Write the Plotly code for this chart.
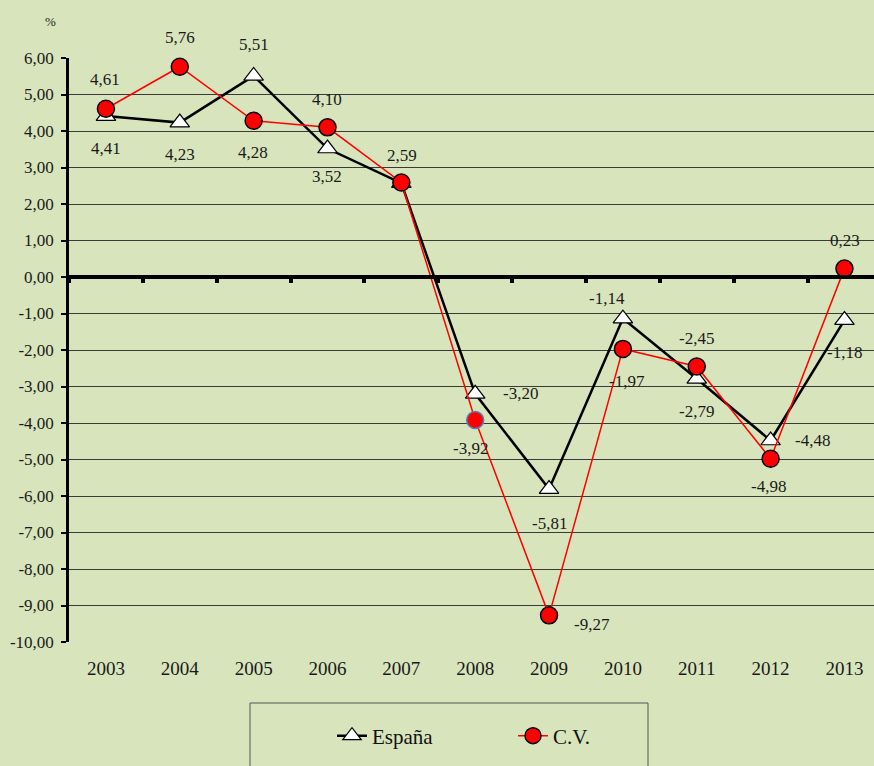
import plotly.graph_objects as go

years = ["2003", "2004", "2005", "2006", "2007", "2008", "2009", "2010", "2011", "2012", "2013"]
espana = [4.41, 4.23, 5.51, 3.52, 2.57, -3.20, -5.81, -1.14, -2.79, -4.48, -1.18]
cv = [4.61, 5.76, 4.28, 4.10, 2.59, -3.92, -9.27, -1.97, -2.45, -4.98, 0.23]
espana_labels = ["4,41", "4,23", "5,51", "3,52", "", "-3,20", "-5,81", "-1,14", "-2,79", "-4,48", "-1,18"]
cv_labels = ["4,61", "5,76", "4,28", "4,10", "2,59", "-3,92", "-9,27", "-1,97", "-2,45", "-4,98", "0,23"]
yticks = list(range(-10, 7))
ytick_text = [("%.2f" % v).replace(".", ",") for v in yticks]

# label offsets in px (dx right, dy down) relative to each marker
espana_off = [(0, 32), (0, 32), (0, -31), (0, 28), (0, 30), (45, 0), (0, 34), (-16, -20), (0, 33), (42, 0), (0, 32)]
cv_off = [(-1, -29), (0, -29), (-1, 32), (0, -28), (1, -27), (-5, 28), (43, 9), (4, 33), (0, -28), (-2, 28), (1, -28)]

FONT = "Times New Roman, Liberation Serif, serif"
BG = "#D8E4BC"
TXT = "#1a1a1a"

fig = go.Figure()
fig.add_trace(go.Scatter(
    x=years, y=espana, name="España", mode="lines+markers",
    line=dict(color="black", width=2.5),
    marker=dict(symbol="triangle-up", size=17, color="white", line=dict(color="black", width=1.2)),
    cliponaxis=False,
))
cv_line_colors = ["black"] * len(cv)
cv_line_colors[5] = "#4F81BD"
fig.add_trace(go.Scatter(
    x=years, y=cv, name="C.V.", mode="lines+markers",
    line=dict(color="red", width=1.5),
    marker=dict(symbol="circle", size=17, color="red", line=dict(color=cv_line_colors, width=1.5)),
    cliponaxis=False,
))
# invisible trace to drive the zero-line axis
fig.add_trace(go.Scatter(x=[0], y=[0], xaxis="x2", mode="markers",
                         marker=dict(opacity=0), showlegend=False, hoverinfo="skip"))

annotations = []
for i, (v, t, (dx, dy)) in enumerate(zip(espana, espana_labels, espana_off)):
    if t:
        annotations.append(dict(x=i, y=v, xref="x", yref="y", text=t, showarrow=False,
                                xshift=dx, yshift=-dy, font=dict(family=FONT, size=17, color=TXT)))
for i, (v, t, (dx, dy)) in enumerate(zip(cv, cv_labels, cv_off)):
    if t:
        annotations.append(dict(x=i, y=v, xref="x", yref="y", text=t, showarrow=False,
                                xshift=dx, yshift=-dy, font=dict(family=FONT, size=17, color=TXT)))

W, H = 874, 766
mt, mb = 58, 124
ml = 69
ymin, ymax = -10, 6
ph = H - mt - mb
pw = W - ml
dom_frac = (0 - ymin) / (ymax - ymin)

annotations.append(dict(text="%", xref="paper", yref="paper", x=-(ml - 50) / pw, y=1 + (58 - 22) / ph,
                        showarrow=False, font=dict(family=FONT, size=13, color=TXT),
                        xanchor="center", yanchor="middle"))

fig.update_layout(
    width=W, height=H,
    margin=dict(l=ml, r=0, t=mt, b=mb),
    paper_bgcolor=BG, plot_bgcolor=BG,
    font=dict(family=FONT, color=TXT),
    showlegend=True,
    legend=dict(orientation="h", x=(332 - ml) / pw, xanchor="left", y=-(736 - (H - mb)) / ph, yanchor="middle",
                font=dict(family=FONT, size=21, color="#111"),
                bgcolor="rgba(0,0,0,0)", entrywidth=136, traceorder="normal"),
    xaxis=dict(type="category", range=[-0.5, 10.4], showgrid=False, showline=False,
               ticks="", tickfont=dict(family=FONT, size=19, color=TXT),
               ticklabelstandoff=13, zeroline=False),
    xaxis2=dict(type="linear", overlaying="x", anchor="free", position=dom_frac,
                range=[-0.5, 10.4], showline=True, linecolor="black", linewidth=4,
                ticks="outside", tickvals=[i + 0.5 for i in range(-1, 11)], ticklen=4,
                tickwidth=4, tickcolor="black", showticklabels=False, showgrid=False,
                zeroline=False, side="bottom"),
    yaxis=dict(range=[ymin, ymax], tickvals=yticks, ticktext=ytick_text,
               showgrid=True, gridcolor="#3a3a3a", gridwidth=1,
               zeroline=False, showline=True, linecolor="black", linewidth=2.5,
               ticks="outside", ticklen=5, tickwidth=2, tickcolor="black",
               ticklabelstandoff=4,
               tickfont=dict(family=FONT, size=17, color=TXT)),
    shapes=[dict(type="rect", xref="paper", yref="paper",
                 x0=(250 - ml) / pw, x1=(648 - ml) / pw,
                 y0=-(H + 20 - (H - mb)) / ph, y1=-(703 - (H - mb)) / ph,
                 line=dict(color="#555", width=1), fillcolor="rgba(0,0,0,0)")],
    annotations=annotations,
)

fig.write_html("out.html", config={"displayModeBar": False},
               post_script="document.body.style.margin='0';document.body.style.overflow='hidden';")
